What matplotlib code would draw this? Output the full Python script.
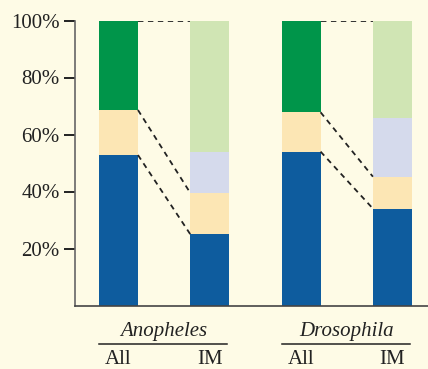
import numpy as np
import matplotlib.pyplot as plt

# stacked percentages, bottom to top
bars = ['All', 'IM', 'All', 'IM']
groups = ['Anopheles', 'Drosophila']
blue = [52.8, 25.0, 54.0, 34.0]
tan = [15.8, 14.5, 13.8, 11.2]
lavender = [0.0, 14.5, 0.0, 20.7]
light_green = [0.0, 46.0, 0.0, 34.1]
green = [31.4, 0.0, 32.2, 0.0]

bg = '#FEFBE6'
c_blue = '#0E5C9E'
c_tan = '#FCE6B4'
c_lav = '#D5DAEC'
c_lgreen = '#D0E5B4'
c_green = '#00954A'

plt.rcParams['font.family'] = 'Liberation Serif'

fig = plt.figure(figsize=(4.28, 3.69), dpi=100, facecolor=bg)
ax = fig.add_axes([75 / 428, 1 - 305.5 / 369, 1 - 75 / 428, (305.5 - 20.5) / 369])
ax.set_facecolor(bg)

x = np.arange(len(bars))
w = 0.427
bottom = np.zeros(len(bars))
for vals, col in [(blue, c_blue), (tan, c_tan), (lavender, c_lav),
                  (light_green, c_lgreen), (green, c_green)]:
    vals = np.array(vals)
    ax.bar(x, vals, w, bottom=bottom, color=col, linewidth=0)
    bottom += vals

# dashed connectors between All and IM bars
blue = np.array(blue)
tan_top = blue + np.array(tan)
for i in [0, 2]:
    for a, b in [(100, 100), (tan_top[i], tan_top[i + 1]), (blue[i], blue[i + 1])]:
        ax.plot([x[i] + w / 2, x[i + 1] - w / 2], [a, b], ls=(0, (3, 2.5)),
                color='#222222', lw=1.3)

ax.set_xlim(-0.476, 3.39)
ax.set_ylim(0, 100)
ax.set_yticks([20, 40, 60, 80, 100])
ax.set_yticklabels(['20%', '40%', '60%', '80%', '100%'], fontsize=15, color='#222222')
ax.set_xticks([])
ax.tick_params(axis='y', length=8, width=1.4, color='#222222', pad=3)
for s in ['top', 'right']:
    ax.spines[s].set_visible(False)
ax.spines['left'].set_color('#666666')
ax.spines['bottom'].set_color('#444444')
ax.spines['left'].set_linewidth(1.2)
ax.spines['bottom'].set_linewidth(1.2)

trans = ax.get_xaxis_transform()
for i, lab in enumerate(bars):
    ax.text(x[i], -0.19, lab, transform=trans, ha='center', va='center',
            fontsize=15, color='#222222')
for j, g in enumerate(groups):
    xc = (x[2 * j] + x[2 * j + 1]) / 2
    ax.text(xc, -0.09, g, transform=trans, ha='center', va='center',
            fontsize=15, style='italic', color='#222222')
    ax.plot([x[2 * j] - w / 2, x[2 * j + 1] + w / 2 - 0.02], [-0.135, -0.135],
            transform=trans, color='#222222', lw=1.1, clip_on=False)

fig.savefig('out.png', dpi=100, facecolor=bg)
